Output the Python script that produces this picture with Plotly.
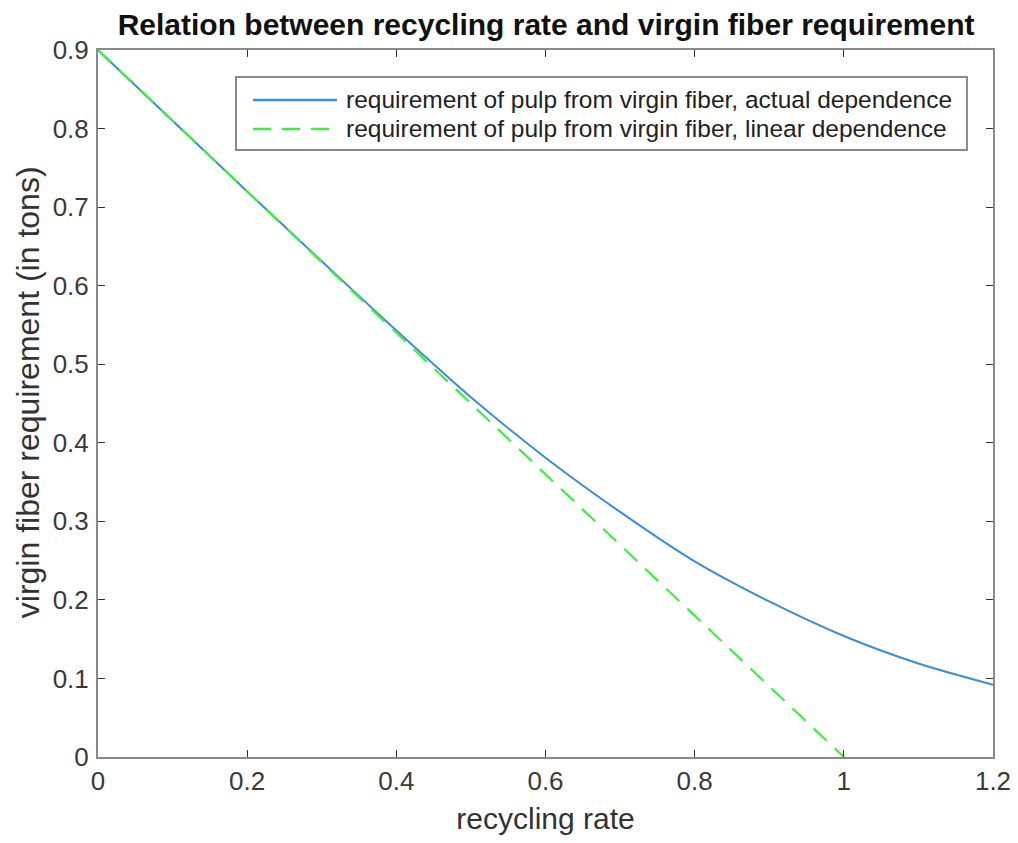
import plotly.graph_objects as go

recycling_rate = [0.0, 0.1, 0.2, 0.3, 0.4, 0.5, 0.6, 0.7, 0.8, 0.9, 1.0, 1.1, 1.2]
actual_requirement = [0.9, 0.81, 0.72, 0.631, 0.543, 0.458, 0.381, 0.312, 0.249, 0.198, 0.154, 0.119, 0.092]
linear_rate = [0.0, 1.0]
linear_requirement = [0.9, 0.0]

x_ticks = [0, 0.2, 0.4, 0.6, 0.8, 1, 1.2]
x_tick_labels = ["0", "0.2", "0.4", "0.6", "0.8", "1", "1.2"]
y_ticks = [0, 0.1, 0.2, 0.3, 0.4, 0.5, 0.6, 0.7, 0.8, 0.9]
y_tick_labels = ["0", "0.1", "0.2", "0.3", "0.4", "0.5", "0.6", "0.7", "0.8", "0.9"]

series_names = ["requirement of pulp from virgin fiber, actual dependence",
                "requirement of pulp from virgin fiber, linear dependence"]
BLUE = "#3a8dd6"
GREEN = "#3ef03e"
FONT = "Liberation Sans, Arial, sans-serif"

fig = go.Figure()
fig.add_trace(go.Scatter(
    x=recycling_rate, y=actual_requirement, mode="lines",
    line=dict(color=BLUE, width=2, shape="spline", smoothing=0.8),
    name=series_names[0]))
fig.add_trace(go.Scatter(
    x=linear_rate, y=linear_requirement, mode="lines",
    line=dict(color=GREEN, width=2.2, dash="18px,11px"),
    name=series_names[1]))

axis_common = dict(
    showgrid=False, zeroline=False, showline=True, linecolor="#8a8a8a", linewidth=2,
    mirror="ticks", ticks="inside", ticklen=7, tickcolor="#333333", tickwidth=1,
    tickfont=dict(family=FONT, size=26, color="#3a3a3a"), automargin=False,
    ticklabeloverflow="allow",
)

# legend box drawn manually (MATLAB style, long line samples)
box_x0, box_x1, box_y0, box_y1 = 0.1542, 0.9709, 0.8586, 0.9618
sample_x0, sample_x1 = 0.1732, 0.2670
row_y = [0.9293, 0.8883]
text_x = 0.2749
shapes = [dict(type="rect", xref="paper", yref="paper", x0=box_x0, x1=box_x1, y0=box_y0, y1=box_y1,
               line=dict(color="#8a8a8a", width=2), fillcolor="white", layer="above")]
shapes.append(dict(type="line", xref="paper", yref="paper", x0=sample_x0, x1=sample_x1,
                   y0=row_y[0], y1=row_y[0], line=dict(color=BLUE, width=2.5), layer="above"))
shapes.append(dict(type="line", xref="paper", yref="paper", x0=sample_x0, x1=sample_x1,
                   y0=row_y[1], y1=row_y[1], line=dict(color=GREEN, width=2.5, dash="18px,11px"), layer="above"))
annotations = [dict(xref="paper", yref="paper", x=text_x, y=row_y[i], xanchor="left", yanchor="middle",
                    text=series_names[i], showarrow=False,
                    font=dict(family=FONT, size=24.5, color="#222222")) for i in range(2)]
annotations.append(dict(xref="paper", yref="paper", x=-0.0782, y=0.516, xanchor="center", yanchor="middle",
                        text="virgin fiber requirement (in tons)", textangle=-90, showarrow=False,
                        font=dict(family=FONT, size=32, color="#333333")))

fig.update_layout(
    width=1002, height=827,
    margin=dict(l=90, r=17, t=42, b=78),
    paper_bgcolor="white", plot_bgcolor="white",
    title=dict(text="<b>Relation between recycling rate and virgin fiber requirement</b>",
               x=0.537, xanchor="center", y=1.0, yanchor="top", pad=dict(t=6),
               font=dict(family=FONT, size=30, color="#111111")),
    xaxis=dict(range=[0, 1.2], tickvals=x_ticks, ticktext=x_tick_labels,
               title=dict(text="recycling rate", font=dict(family=FONT, size=30, color="#333333"), standoff=16),
               **axis_common),
    yaxis=dict(range=[0, 0.9], tickvals=y_ticks, ticktext=y_tick_labels,
               ticklabelstandoff=2,
               **axis_common),
    shapes=shapes,
    annotations=annotations,
    showlegend=False,
)

fig.write_html("out.html")
